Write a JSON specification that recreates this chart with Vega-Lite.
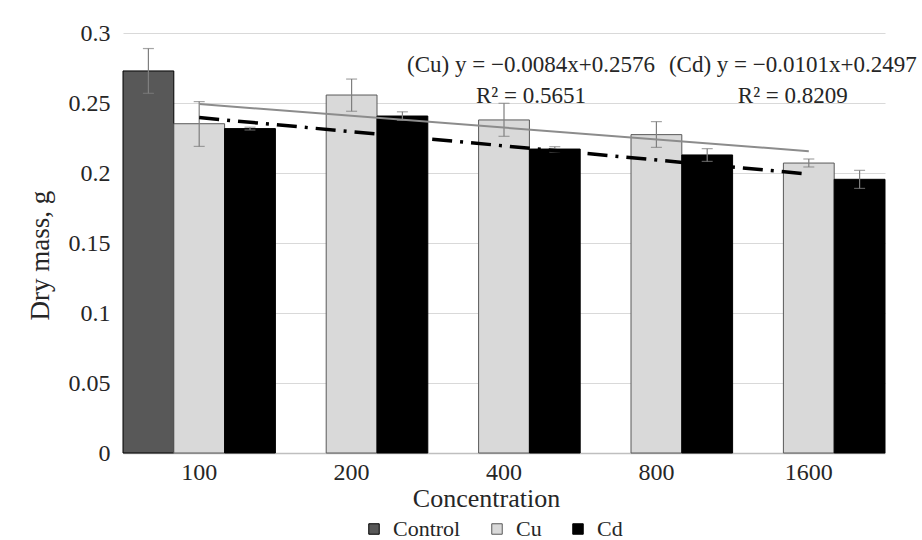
{
  "$schema": "https://vega.github.io/schema/vega-lite/v6.json",
  "width": 762,
  "height": 420,
  "autosize": {"type": "none"},
  "padding": {"left": 123, "top": 33, "right": 37, "bottom": 87},
  "background": "white",
  "config": {
    "font": "Liberation Serif",
    "view": {"stroke": null},
    "text": {"font": "Liberation Serif"},
    "style": {
      "guide-label": {"font": "Liberation Serif"},
      "guide-title": {"font": "Liberation Serif"}
    },
    "axisY": {
      "grid": true, "gridColor": "#d9d9d9", "gridWidth": 1,
      "domain": false, "ticks": false,
      "labelFont": "Liberation Serif", "labelFontSize": 24, "labelPadding": 13, "labelColor": "#262626",
      "titleFont": "Liberation Serif", "titleFontSize": 27, "titleFontWeight": "normal", "titleColor": "#262626",
      "titlePadding": 14, "titleY": 222
    },
    "axisX": {
      "domain": true, "domainColor": "#bfbfbf", "domainWidth": 1.3,
      "ticks": false, "grid": false, "labelAngle": 0,
      "labelFont": "Liberation Serif", "labelFontSize": 24, "labelPadding": 7, "labelColor": "#262626",
      "titleFont": "Liberation Serif", "titleFontSize": 26, "titleFontWeight": "normal", "titleColor": "#262626",
      "titlePadding": 1, "titleX": 363
    },
    "legend": {
      "orient": "none", "legendX": 240, "legendY": 485, "direction": "horizontal",
      "labelFont": "Liberation Serif", "labelFontSize": 22, "labelColor": "#262626", "symbolType": "square", "symbolSize": 110,
      "symbolStrokeWidth": 1, "columnPadding": 25, "labelOffset": 8
    }
  },
  "datasets": {
    "bars": [
      {"conc": "100", "series": "Control", "mean": 0.2729, "lo": 0.2569, "hi": 0.2889},
      {"conc": "100", "series": "Cu", "mean": 0.2352, "lo": 0.2190, "hi": 0.2510},
      {"conc": "100", "series": "Cd", "mean": 0.2317, "lo": 0.2307, "hi": 0.2327},
      {"conc": "200", "series": "Cu", "mean": 0.2557, "lo": 0.2441, "hi": 0.2671},
      {"conc": "200", "series": "Cd", "mean": 0.2407, "lo": 0.2376, "hi": 0.2437},
      {"conc": "400", "series": "Cu", "mean": 0.2379, "lo": 0.2262, "hi": 0.2498},
      {"conc": "400", "series": "Cd", "mean": 0.2171, "lo": 0.2150, "hi": 0.2188},
      {"conc": "800", "series": "Cu", "mean": 0.2274, "lo": 0.2183, "hi": 0.2367},
      {"conc": "800", "series": "Cd", "mean": 0.2129, "lo": 0.2083, "hi": 0.2174},
      {"conc": "1600", "series": "Cu", "mean": 0.2071, "lo": 0.2043, "hi": 0.2100},
      {"conc": "1600", "series": "Cd", "mean": 0.1955, "lo": 0.1890, "hi": 0.2019}
    ],
    "cuTrend": [
      {"conc": "100", "value": 0.2492},
      {"conc": "1600", "value": 0.2156}
    ],
    "cdTrend": [
      {"conc": "100", "value": 0.2396},
      {"conc": "1600", "value": 0.1992}
    ],
    "cuEq": [{"conc": "400", "lines": ["(Cu) y = −0.0084x+0.2576", "R² = 0.5651"]}],
    "cdEq": [{"conc": "1600", "lines": ["(Cd) y = −0.0101x+0.2497", "R² = 0.8209"]}]
  },
  "layer": [
    {
      "data": {"name": "bars"},
      "mark": {"type": "bar", "strokeWidth": 1},
      "encoding": {
        "x": {"field": "conc", "type": "nominal", "title": "Concentration",
              "scale": {"domain": ["100", "200", "400", "800", "1600"], "paddingInner": 0, "paddingOuter": 0}},
        "xOffset": {"field": "series", "type": "nominal", "scale": {"domain": ["Control", "Cu", "Cd"], "paddingInner": 0, "paddingOuter": 0}},
        "y": {"field": "mean", "type": "quantitative", "title": "Dry mass, g",
              "scale": {"domain": [0, 0.3], "nice": false},
              "axis": {"values": [0, 0.05, 0.1, 0.15, 0.2, 0.25, 0.3], "format": "~g"}},
        "fill": {"field": "series", "type": "nominal", "legend": {"title": null},
                 "scale": {"domain": ["Control", "Cu", "Cd"], "range": ["#585858", "#d9d9d9", "#000000"]}},
        "stroke": {"field": "series", "type": "nominal", "legend": {"title": null},
                   "scale": {"domain": ["Control", "Cu", "Cd"], "range": ["#000000", "#595959", "#000000"]}}
      }
    },
    {
      "data": {"name": "bars"},
      "mark": {"type": "rule", "color": "#7f7f7f", "strokeWidth": 1.2},
      "encoding": {
        "x": {"field": "conc", "type": "nominal", "title": "Concentration", "scale": {"domain": ["100", "200", "400", "800", "1600"]}},
        "xOffset": {"field": "series", "type": "nominal"},
        "y": {"field": "lo", "type": "quantitative", "title": "Dry mass, g"},
        "y2": {"field": "hi"}
      }
    },
    {
      "data": {"name": "bars"},
      "mark": {"type": "tick", "color": "#7f7f7f", "size": 11, "thickness": 1.2},
      "encoding": {
        "x": {"field": "conc", "type": "nominal", "title": "Concentration", "scale": {"domain": ["100", "200", "400", "800", "1600"]}},
        "xOffset": {"field": "series", "type": "nominal"},
        "y": {"field": "lo", "type": "quantitative", "title": "Dry mass, g"}
      }
    },
    {
      "data": {"name": "bars"},
      "mark": {"type": "tick", "color": "#7f7f7f", "size": 11, "thickness": 1.2},
      "encoding": {
        "x": {"field": "conc", "type": "nominal", "title": "Concentration", "scale": {"domain": ["100", "200", "400", "800", "1600"]}},
        "xOffset": {"field": "series", "type": "nominal"},
        "y": {"field": "hi", "type": "quantitative", "title": "Dry mass, g"}
      }
    },
    {
      "data": {"name": "cuTrend"},
      "mark": {"type": "line", "color": "#8c8c8c", "strokeWidth": 2},
      "encoding": {
        "x": {"field": "conc", "type": "nominal", "title": "Concentration", "scale": {"domain": ["100", "200", "400", "800", "1600"]}},
        "y": {"field": "value", "type": "quantitative", "title": "Dry mass, g"}
      }
    },
    {
      "data": {"name": "cdTrend"},
      "mark": {"type": "line", "color": "#000000", "strokeWidth": 3.5, "strokeDash": [20, 8, 3, 8]},
      "encoding": {
        "x": {"field": "conc", "type": "nominal", "title": "Concentration", "scale": {"domain": ["100", "200", "400", "800", "1600"]}},
        "y": {"field": "value", "type": "quantitative", "title": "Dry mass, g"}
      }
    },
    {
      "data": {"name": "cuEq"},
      "mark": {"type": "text", "font": "Liberation Serif", "align": "center", "baseline": "alphabetic", "fontSize": 23, "lineHeight": 31, "dx": 27, "color": "#262626"},
      "encoding": {
        "x": {"field": "conc", "type": "nominal", "title": "Concentration", "scale": {"domain": ["100", "200", "400", "800", "1600"]}},
        "y": {"datum": 0.272, "type": "quantitative", "title": "Dry mass, g"},
        "text": {"field": "lines"}
      }
    },
    {
      "data": {"name": "cdEq"},
      "mark": {"type": "text", "font": "Liberation Serif", "align": "center", "baseline": "alphabetic", "fontSize": 23, "lineHeight": 31, "dx": -16, "color": "#262626"},
      "encoding": {
        "x": {"field": "conc", "type": "nominal", "title": "Concentration", "scale": {"domain": ["100", "200", "400", "800", "1600"]}},
        "y": {"datum": 0.272, "type": "quantitative", "title": "Dry mass, g"},
        "text": {"field": "lines"}
      }
    }
  ]
}
